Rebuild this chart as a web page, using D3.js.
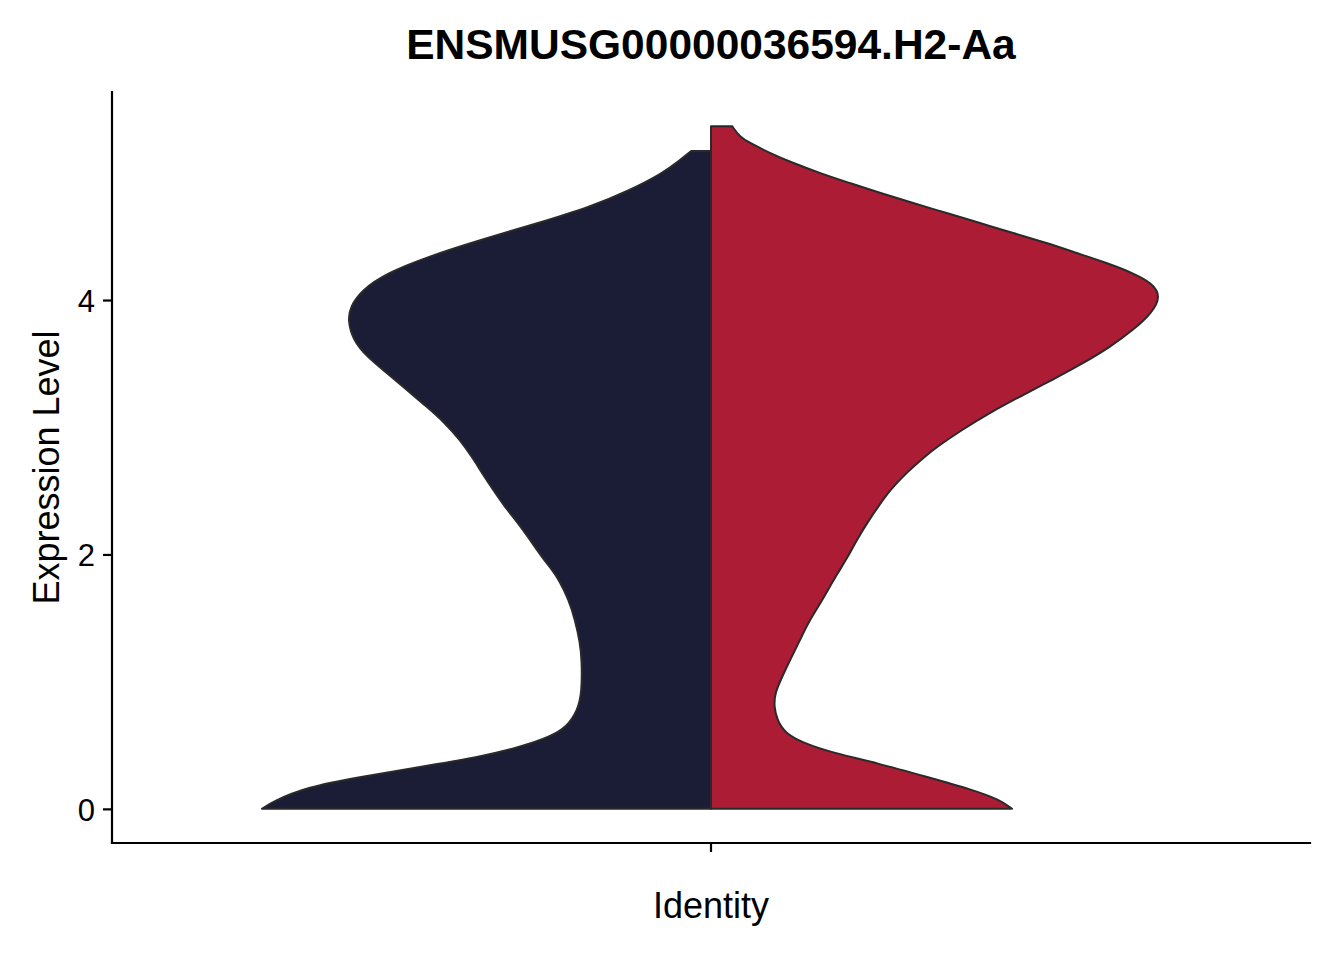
<!DOCTYPE html>
<html><head><meta charset="utf-8">
<script src="https://cdn.jsdelivr.net/npm/d3@7"></script>
<style>body{margin:0;background:#fff}</style>
</head><body>
<svg id="chart" width="1344" height="960"></svg>
<script>
const chartTitle = "ENSMUSG00000036594.H2-Aa";
const xTitle = "Identity";
const yTitle = "Expression Level";
const categories = [""];
const yTicks = [0, 2, 4];
const splitColors = ["#1b1d36", "#ac1c34"];

// left half (first split group): expression values and scaled density
const exprLeft = [0, 0.055, 0.173, 0.251, 0.330, 0.409, 0.487, 0.566, 0.644, 0.778, 0.912, 1.171, 1.305, 1.485, 1.642, 1.800, 1.878, 1.980, 2.114, 2.248, 2.373, 2.507, 2.641, 2.766, 2.900, 3.033, 3.159, 3.293, 3.426, 3.552, 3.686, 3.843, 3.945, 4.079, 4.212, 4.338, 4.472, 4.605, 4.731, 4.864, 4.998, 5.100, 5.171];
const densLeft = [0.998, 0.976, 0.898, 0.780, 0.647, 0.513, 0.424, 0.358, 0.320, 0.296, 0.287, 0.287, 0.291, 0.302, 0.316, 0.338, 0.353, 0.376, 0.402, 0.429, 0.458, 0.484, 0.509, 0.531, 0.558, 0.591, 0.631, 0.676, 0.720, 0.764, 0.796, 0.807, 0.802, 0.776, 0.720, 0.631, 0.513, 0.384, 0.269, 0.180, 0.107, 0.069, 0.044];

// right half (second split group)
const exprRight = [0, 0.071, 0.149, 0.251, 0.361, 0.440, 0.519, 0.597, 0.699, 0.802, 0.912, 1.037, 1.171, 1.328, 1.462, 1.587, 1.721, 1.855, 1.980, 2.114, 2.248, 2.373, 2.507, 2.641, 2.766, 2.845, 2.978, 3.112, 3.238, 3.371, 3.505, 3.631, 3.764, 3.898, 4.031, 4.134, 4.212, 4.291, 4.369, 4.448, 4.527, 4.605, 4.684, 4.762, 4.841, 4.919, 4.998, 5.077, 5.155, 5.234, 5.281, 5.367];
const densRight = [0.669, 0.642, 0.582, 0.480, 0.369, 0.271, 0.204, 0.164, 0.147, 0.140, 0.142, 0.158, 0.176, 0.198, 0.216, 0.238, 0.260, 0.282, 0.304, 0.324, 0.347, 0.371, 0.398, 0.434, 0.474, 0.502, 0.557, 0.619, 0.685, 0.758, 0.828, 0.887, 0.938, 0.980, 1.000, 0.980, 0.938, 0.880, 0.813, 0.747, 0.671, 0.598, 0.524, 0.449, 0.376, 0.309, 0.242, 0.182, 0.131, 0.087, 0.064, 0.047];

const svg = d3.select("#chart");
const font = "'Liberation Sans', Arial, Helvetica, sans-serif";
const panel = {left: 112, right: 1310, top: 92, bottom: 843};

const allVals = exprLeft.concat(exprRight);
const yMin = d3.min(allVals), yMax = d3.max(allVals);
const pad = (yMax - yMin) * 0.05;
const y = d3.scaleLinear().domain([yMin - pad, yMax + pad]).range([panel.bottom, panel.top]);
const x = d3.scaleBand().domain(categories).range([panel.left, panel.right]);
const w = d3.scaleLinear().domain([0, 1]).range([0, x.bandwidth() * 0.3756]);
const cx = x(categories[0]) + x.bandwidth() / 2;

const halves = [
  {vals: exprLeft, dens: densLeft, sign: -1, color: splitColors[0]},
  {vals: exprRight, dens: densRight, sign: 1, color: splitColors[1]}
];

halves.forEach(h => {
  const pts = h.vals.map((v, i) => ({v, d: h.dens[i]}));
  const area = d3.area()
    .y(d => y(d.v))
    .x0(cx)
    .x1(d => cx + h.sign * w(d.d))
    .curve(d3.curveBasis);
  svg.append("path")
    .attr("d", area(pts))
    .attr("fill", h.color)
    .attr("stroke", "#2a2a2a")
    .attr("stroke-width", 2)
    .attr("stroke-linejoin", "round");
});

// axes
const yAxis = d3.axisLeft(y).tickValues(yTicks).tickFormat(d3.format("d")).tickSize(9).tickPadding(8);
const gy = svg.append("g").attr("transform", `translate(${panel.left},0)`).call(yAxis);
gy.select(".domain").attr("d", `M0,${panel.top}V${panel.bottom}`);
const xAxis = d3.axisBottom(x).tickSize(9).tickPadding(8);
const gx = svg.append("g").attr("transform", `translate(0,${panel.bottom})`).call(xAxis);
gx.select(".domain").attr("d", `M${panel.left},0H${panel.right}`);
[gx, gy].forEach(g => {
  g.select(".domain").attr("stroke", "#000").attr("stroke-width", 2.2).attr("stroke-linecap", "square");
  g.selectAll(".tick line").attr("stroke", "#000").attr("stroke-width", 2.2);
  g.selectAll(".tick text").attr("fill", "#000").style("font-family", font).style("font-size", "31px");
});
gy.selectAll(".tick text").attr("dy", "0.36em");

// titles
svg.append("text").attr("x", (panel.left + panel.right) / 2).attr("y", 59)
  .attr("text-anchor", "middle").style("font-family", font).style("font-size", "42.5px")
  .style("font-weight", "bold").attr("fill", "#000").text(chartTitle);
svg.append("text").attr("x", (panel.left + panel.right) / 2).attr("y", 918)
  .attr("text-anchor", "middle").style("font-family", font).style("font-size", "36px")
  .attr("fill", "#000").text(xTitle);
svg.append("text").attr("transform", `translate(59,${(panel.top + panel.bottom) / 2}) rotate(-90)`)
  .attr("text-anchor", "middle").style("font-family", font).style("font-size", "36px")
  .attr("fill", "#000").text(yTitle);
</script>
</body></html>
